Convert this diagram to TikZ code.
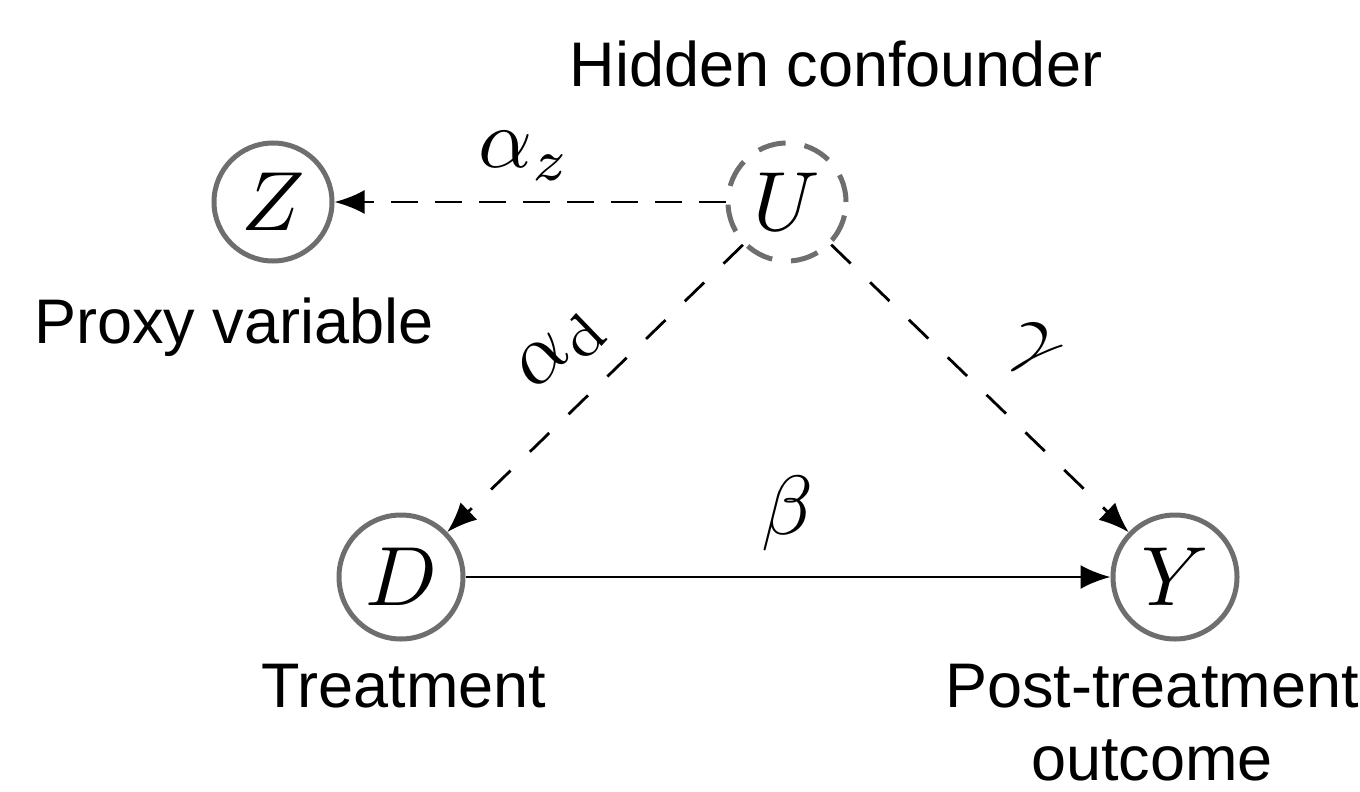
\documentclass[tikz,border=0pt]{standalone}
\usepackage{graphicx}
\usepackage{fontspec}
\setmainfont{Liberation Sans}
\usetikzlibrary{arrows.meta}
\definecolor{cgray}{RGB}{110,110,110}
\newcommand{\mymath}[1]{\scalebox{8.4}{$#1$}}
\newcommand{\romd}{\mbox{\fontfamily{lmr}\fontsize{7}{8}\selectfont d}}
\tikzset{
  var/.style={circle, draw=cgray, line width=5pt, minimum size=118pt, inner sep=0pt},
  bigvar/.style={var, minimum size=124pt},
  hid/.style={var, dash pattern=on 28pt off 19pt},
  lbl/.style={font=\fontsize{63}{73}\selectfont, align=center, inner sep=0pt},
  coef/.style={inner sep=0pt},
  conn/.style={line width=2.8pt, -{Latex[length=30pt,width=24pt]}},
  hconn/.style={conn, dash pattern=on 27pt off 17pt},
  dconn/.style={conn, dash pattern=on 27pt off 27pt},
}
\begin{document}
\begin{tikzpicture}[x=1pt,y=-1pt]
  \useasboundingbox (0,0) rectangle (1360,792);
  % variables
  \node[var] (Z) at (273,202) {\mymath{Z}};
  \node[hid] (U) at (787,202) {\mymath{U}};
  \node[bigvar] (D) at (401,577) {\mymath{D}};
  \node[bigvar] (Y) at (1175,577) {\mymath{Y}};
  % descriptions
  \node[lbl, anchor=base] (hc) at (836,86) {Hidden confounder};
  \node[lbl, anchor=base] (pv) at (234,343) {Proxy variable};
  \node[lbl, anchor=base] (tr) at (404,707) {Treatment};
  \node[lbl, anchor=base] (po) at (1152,780) {Post-treatment\\outcome};
  % connectors
  \draw[hconn] (U) -- (Z);
  \draw[dconn] (U) -- (D);
  \draw[dconn] (U) -- (Y);
  \draw[conn] (D) -- (Y);
  % coefficients
  \node[coef] (az) at (525,156) {\mymath{\alpha_z}};
  \node[coef, rotate=44] (ad) at (562,350) {\mymath{\alpha_{\romd}}};
  \node[coef, rotate=-44] (g) at (1030,350) {\mymath{\gamma}};
  \node[coef] (b) at (787,513) {\mymath{\beta}};
\end{tikzpicture}
\end{document}
